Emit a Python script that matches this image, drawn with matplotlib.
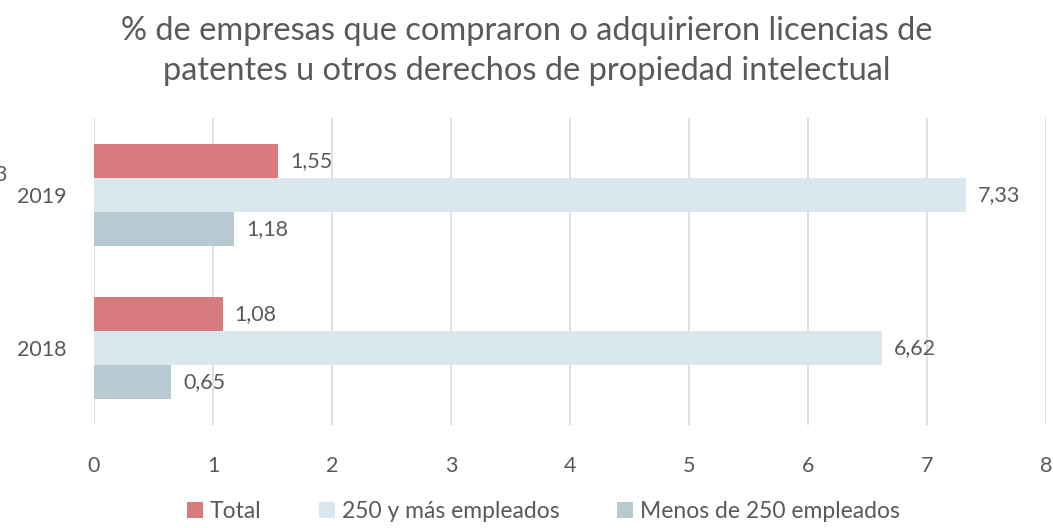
import numpy as np
import matplotlib.pyplot as plt

plt.rcParams['font.family'] = ['Lato', 'DejaVu Sans']

years = ["2018", "2019"]
series = ["Total", "250 y más empleados", "Menos de 250 empleados"]
total = [1.08, 1.55]
grandes = [6.62, 7.33]
pymes = [0.65, 1.18]
colors = ["#D77B7E", "#DAE7EF", "#B8CAD1"]
text_color = "#595959"

fig = plt.figure(figsize=(10.53, 5.28), dpi=100)
ax = fig.add_axes([0.0893, 0.195, 0.9041, 0.5815])

y = np.arange(len(years))
h = 0.222
offsets = [h, 0, -h]
for vals, off, col, name in zip([total, grandes, pymes], offsets, colors, series):
    bars = ax.barh(y + off, vals, height=h, color=col, label=name, zorder=3)
    for b, v in zip(bars, vals):
        ax.text(v + 0.1, b.get_y() + h / 2, f"{v:.2f}".replace(".", ","),
                va="center", ha="left", fontsize=15.5, color=text_color, zorder=4)

ax.set_xlim(0, 8)
ax.set_ylim(-0.5, 1.5)
ax.set_xticks(range(9))
ax.set_yticks(y)
ax.set_yticklabels(years)
ax.grid(axis="x", color="#D9D9D9", lw=1.2, zorder=0)
for s in ax.spines.values():
    s.set_visible(False)
ax.tick_params(axis="both", length=0, labelsize=15.5, colors=text_color)
ax.tick_params(axis="x", pad=22)
ax.tick_params(axis="y", pad=20)

fig.text(0.5, 0.903, "% de empresas que compraron o adquirieron licencias de\n"
         "patentes u otros derechos de propiedad intelectual",
         ha="center", va="center", fontsize=23.5, color=text_color, linespacing=1.42)
fig.text(-0.006, 0.668, "3", ha="left", va="center", fontsize=15.5, color=text_color)

fig.legend(loc="lower center", ncol=3, frameon=False, fontsize=16.5,
           bbox_to_anchor=(0.516, -0.027), handlelength=0.7, handleheight=0.7,
           handletextpad=0.3, columnspacing=2.5, labelcolor=text_color)

fig.savefig("out.png", dpi=100)
